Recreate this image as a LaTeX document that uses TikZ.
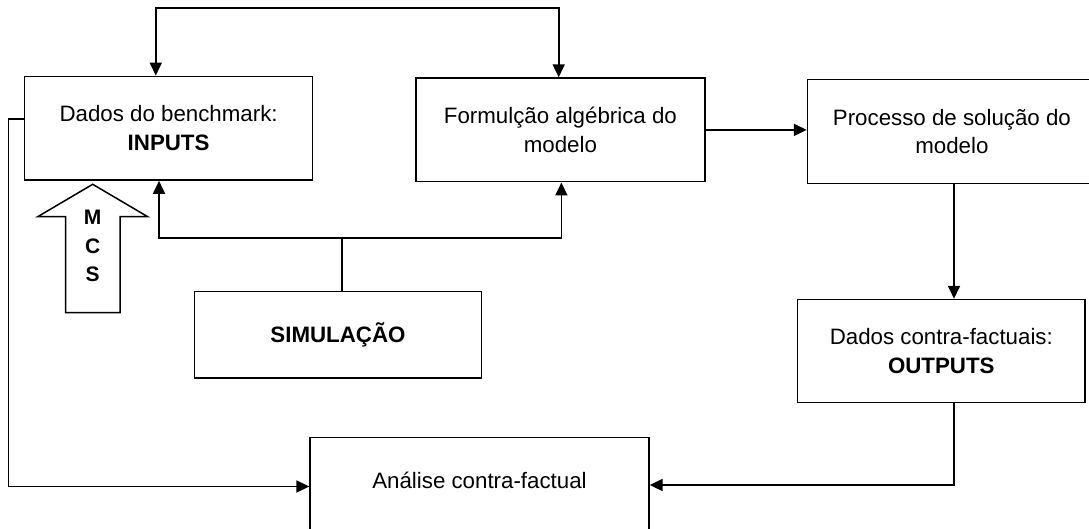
\documentclass[tikz,border=0pt]{standalone}
\usepackage{fontspec}
\setmainfont{Liberation Sans}
\usetikzlibrary{arrows.meta,calc}
\begin{document}
\begin{tikzpicture}[x=1pt,y=-1pt,
  boxbase/.style={draw,line width=1.5pt,inner sep=0pt,font=\fontsize{22.3}{28.5}\selectfont},
  box/.style={boxbase,align=center},
  conn/.style={line width=1.8pt,-{Triangle[length=13pt,width=12pt]}},
  conn2/.style={line width=1.8pt,{Triangle[length=13pt,width=12pt]}-{Triangle[length=13pt,width=12pt]}},
  plainline/.style={line width=1.4pt}]
\useasboundingbox (0,0) rectangle (1089,529);
% boxes
\node[box,minimum width=288.2pt,minimum height=103.7pt] (inputs) at (168.6,128.2) {Dados do benchmark:\\\textbf{INPUTS}};
\node[box,minimum width=288.7pt,minimum height=103.7pt] (form) at (560.4,129.9) {Formulção algébrica do\\modelo};
\node[box,minimum width=288.7pt,minimum height=104pt] (proc) at (951.9,131.3) {Processo de solução do\\modelo};
\node[box,minimum width=287.4pt,minimum height=103pt] (outputs) at (941.3,351) {Dados contra-factuais:\\\textbf{OUTPUTS}};
\node[box,minimum width=287.3pt,minimum height=86.4pt] (sim) at (338,334.8) {\textbf{SIMULAÇÃO}};
\node[boxbase,anchor=north,minimum width=338.8pt,text height=51pt,text depth=60pt] (ana) at (479.5,436.5) {Análise contra-factual};
% MCS block arrow
\draw[line width=1.5pt,line join=miter] (65.7,312.7) -- (65.7,216.7) -- (37.7,216.7) -- (92.7,184.3) -- (147.7,216.7) -- (120,216.7) -- (120,312.7) -- cycle;
\node[font=\fontsize{21}{28.5}\selectfont\bfseries,align=center,inner sep=0pt] (mcs) at (92.7,246) {M\\C\\S};
% coordinates for connectors
\coordinate (topL) at (155.8,8.3);
\coordinate (topR) at (558.7,8.3);
\coordinate (sl) at (159,238);
\coordinate (sr) at (561.4,238);
\coordinate (sm) at (342,238);
\coordinate (lt) at (8.4,119);
\coordinate (lb) at (8.4,486.5);
\coordinate (br) at (954,485);
% connectors
\draw[conn2] (topL |- inputs.north) -- (topL) -- (topR) -- (topR |- form.north);
\draw[conn] (form.east) -- (form.east -| proc.west);
\draw[conn] (proc.south -| br) -- (br |- outputs.north);
\draw[conn2] (sl |- inputs.south) -- (sl) -- (sr) -- (sr |- form.south);
\draw[plainline] (sim.north -| sm) -- (sm);
\draw[conn] (inputs.west |- lt) -- (lt) -- (lb) -- (lb -| ana.west);
\draw[conn] (br |- outputs.south) -- (br) -- (br -| ana.east);
\end{tikzpicture}
\end{document}
